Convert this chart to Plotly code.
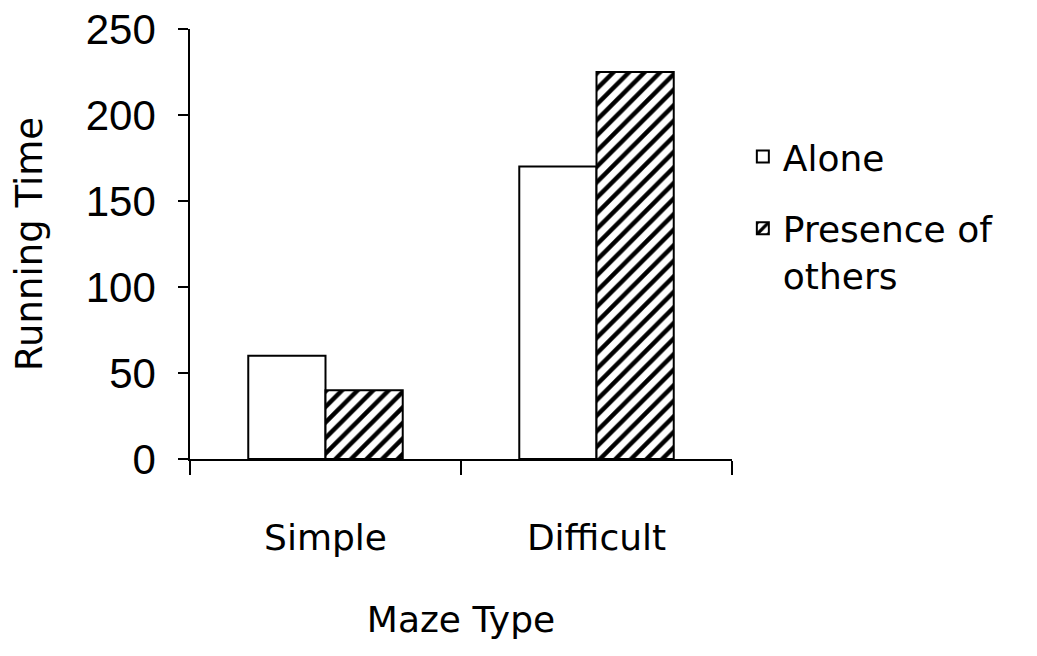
import plotly.graph_objects as go

# Running time by maze type, alone vs. in the presence of others
maze_types = ["Simple", "Difficult"]
alone = [60, 170]
presence = [40, 225]
series_names = ["Alone", "Presence of<br>others"]
y_ticks = [0, 50, 100, 150, 200, 250]

label_font = "DejaVu Sans"
tick_font = "Liberation Sans, Arial"

fig = go.Figure()
fig.add_trace(go.Bar(
    x=maze_types, y=alone, name=series_names[0], legendgroup="a",
    marker=dict(color="white", line=dict(color="black", width=2)),
))
fig.add_trace(go.Bar(
    x=maze_types, y=presence, name=series_names[1], legendgroup="b",
    marker=dict(
        color="white",
        line=dict(color="black", width=2),
        pattern=dict(shape="/", fgcolor="black", bgcolor="white",
                     size=11, solidity=0.4, fillmode="replace"),
    ),
))

fig.update_layout(
    width=1037, height=656,
    margin=dict(l=190, r=305, t=29, b=197, autoexpand=False),
    paper_bgcolor="white", plot_bgcolor="white",
    barmode="group", bargap=0.43, bargroupgap=0,
    showlegend=True,
    legend=dict(
        x=1.02, xanchor="left", y=0.773, yanchor="top",
        font=dict(family=label_font, size=36, color="black"),
        valign="top", tracegroupgap=22, itemwidth=30,
        bgcolor="rgba(0,0,0,0)",
    ),
)

fig.update_xaxes(
    range=[-0.5, 1.5], automargin=False,
    showline=True, linecolor="black", linewidth=1.5,
    ticks="outside", tickson="boundaries", ticklen=14, tickwidth=1.5, tickcolor="black",
    tickfont=dict(family=label_font, size=36, color="black"),
    ticklabelstandoff=46,
    showgrid=False, zeroline=False,
    title=dict(text="Maze Type", font=dict(family=label_font, size=36, color="black"),
               standoff=50),
)
fig.update_yaxes(
    range=[0, 250], tickvals=y_ticks, automargin=False,
    showline=True, linecolor="black", linewidth=1.5,
    ticks="outside", ticklen=10, tickwidth=1.5, tickcolor="black",
    tickfont=dict(family=tick_font, size=42, color="black"),
    ticklabelstandoff=14,
    showgrid=False, zeroline=False,
    title=dict(text="Running Time", font=dict(family=label_font, size=37, color="black"),
               standoff=32),
)

fig.write_html("out.html")
